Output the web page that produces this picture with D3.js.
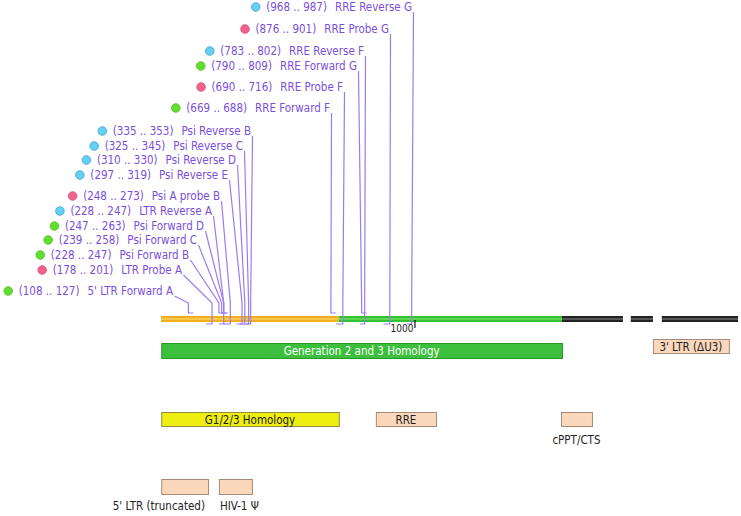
<!DOCTYPE html>
<html><head><meta charset="utf-8">
<script src="https://cdn.jsdelivr.net/npm/d3@7"></script>
<style>body{margin:0;background:#fff}svg{display:block}</style>
</head><body>
<svg id="c" width="741" height="516"></svg>
<script>
// ---------- DATA ----------
const primerNames = ["5' LTR Forward A","LTR Probe A","Psi Forward B","Psi Forward C","Psi Forward D","LTR Reverse A","Psi A probe B","Psi Reverse E","Psi Reverse D","Psi Reverse C","Psi Reverse B","RRE Forward F","RRE Probe F","RRE Forward G","RRE Reverse F","RRE Probe G","RRE Reverse G"];
const primerStart = [108,178,228,239,247,228,248,297,310,325,335,669,690,790,783,876,968];
const primerEnd   = [127,201,247,258,263,247,273,319,330,345,353,688,716,809,802,901,987];
const primerType  = ["forward","probe","forward","forward","forward","reverse","probe","reverse","reverse","reverse","reverse","forward","probe","forward","reverse","probe","reverse"];

const featureNames = ["Generation 2 and 3 Homology","3' LTR (ΔU3)","G1/2/3 Homology","RRE","cPPT/CTS","5' LTR (truncated)","HIV-1 Ψ"];
const featureStart = [1,1937,1,846,1575,1,228];
const featureEnd   = [1579,2236,700,1083,1697,185,358];
const featureKind  = ["homology23","misc","homology123","misc","misc","misc","misc"];

const backboneStart = [0,1850,1972];
const backboneEnd   = [1819,1937,2272];
const tickValues = [1000];

// ---------- LAYOUT / STYLE ----------
const W = 741, H = 516;
const FONT = "'DejaVu Sans Condensed','DejaVu Sans',sans-serif";
const svg = d3.select("#c").style("font-family", FONT).style("font-stretch","condensed");
const x = d3.scaleLinear().domain([0, 2272]).range([161, 738]);

const strandTop = 316, strandH = 6;
const fwdY = 313, revY = 324, elbowY = 303;
const purpleText = "#7a4fdc", purpleLine = "#9a7cf0";
const typeFill = {forward:"#62dd2e", probe:"#f0628c", reverse:"#66d0f4"};
const typeStroke = {forward:"#4cc020", probe:"#d84a74", reverse:"#3aa2d6"};

// label anchor (text end x, row center y)
const labelLayout = {
  "RRE Reverse G":[412,7], "RRE Probe G":[389,29], "RRE Reverse F":[364,51],
  "RRE Forward G":[357,66], "RRE Probe F":[343,87], "RRE Forward F":[330,108],
  "Psi Reverse B":[251,131], "Psi Reverse C":[243,146], "Psi Reverse D":[236,160],
  "Psi Reverse E":[228,175], "Psi A probe B":[220,196], "LTR Reverse A":[212,211],
  "Psi Forward D":[204,226], "Psi Forward C":[197,240], "Psi Forward B":[189,255],
  "LTR Probe A":[182,270], "5' LTR Forward A":[173,291]
};

// ---------- BACKBONE ----------
function regionColor(bp){
  if (bp < featureEnd[2]) return ["#f2b020","#ffe070"];
  if (bp < featureEnd[0]) return ["#33c233","#86ee6a"];
  return ["#232323","#8a8a8a"];
}
const cuts = [featureEnd[2], featureEnd[0]];
const pieces = [];
backboneStart.forEach((s,i)=>{
  const e = backboneEnd[i];
  const pts = [s, ...cuts.filter(c=>c>s && c<e), e];
  for (let k=0;k<pts.length-1;k++) pieces.push([pts[k], pts[k+1]]);
});
const bb = svg.append("g");
pieces.forEach(([a,b])=>{
  const [c1,c2] = regionColor((a+b)/2);
  bb.append("rect").attr("x", x(a)).attr("y", strandTop).attr("width", x(b)-x(a)).attr("height", strandH).attr("fill", c1);
  bb.append("rect").attr("x", x(a)).attr("y", strandTop+2.5).attr("width", x(b)-x(a)).attr("height", 1).attr("fill", c2);
});

// ---------- PRIMER LEADERS + LABELS ----------
const lg = svg.append("g");
primerNames.forEach((name,i)=>{
  const [ex, cy] = labelLayout[name];
  const fwd = primerType[i] === "forward";
  const anchorX = fwd ? x(primerStart[i]) : x(primerEnd[i]);
  const otherX = fwd ? x(primerEnd[i]) : x(primerStart[i]);
  const by = fwd ? fwdY : revY;
  const p = d3.path();
  p.moveTo(ex+1.5, cy+5);
  p.lineTo(anchorX, elbowY);
  p.lineTo(anchorX, by);
  p.lineTo(otherX, by);
  lg.append("path").attr("d", p.toString()).attr("fill","none").attr("stroke", purpleLine).attr("stroke-width",1.2);
});
primerNames.forEach((name,i)=>{
  const [ex, cy] = labelLayout[name];
  const t = lg.append("text").attr("x", ex).attr("y", cy+4).attr("text-anchor","end")
    .attr("font-size", 11.5).attr("fill", purpleText);
  t.append("tspan").text(`(${primerStart[i]} .. ${primerEnd[i]})`);
  t.append("tspan").attr("dx", 8).text(name);
  const bx = t.node().getBBox().x;
  lg.append("circle").attr("cx", bx - 10.5).attr("cy", cy).attr("r", 4.3)
    .attr("fill", typeFill[primerType[i]]).attr("stroke", typeStroke[primerType[i]]).attr("stroke-width", 0.8);
});

// ---------- TICK ----------
tickValues.forEach(v=>{
  svg.append("line").attr("x1", x(v)).attr("x2", x(v)).attr("y1", 320).attr("y2", 328).attr("stroke","#111").attr("stroke-width",1.2);
  svg.append("text").attr("x", x(v)-1.5).attr("y", 331.5).attr("text-anchor","end").attr("font-size",10).attr("fill","#222").text(v);
});

// ---------- FEATURES ----------
const featStyle = {
  "Generation 2 and 3 Homology": {y:343, h:15, inside:true, fill:"#3cbf3c", stroke:"#279a27", color:"#ffffff"},
  "3' LTR (ΔU3)": {y:339, h:14, inside:true, fill:"#fbd8bc", stroke:"#a58a78", color:"#222"},
  "G1/2/3 Homology": {y:412, h:14, inside:true, fill:"#eeee10", stroke:"#8f8f40", color:"#222"},
  "RRE": {y:412, h:14, inside:true, fill:"#fbd8bc", stroke:"#a58a78", color:"#222"},
  "cPPT/CTS": {y:412, h:14, inside:false, fill:"#fbd8bc", stroke:"#a58a78", color:"#222", anchor:"middle", ly:444},
  "5' LTR (truncated)": {y:479, h:15, inside:false, fill:"#fbd8bc", stroke:"#a58a78", color:"#222", anchor:"end", ly:510},
  "HIV-1 Ψ": {y:479, h:15, inside:false, fill:"#fbd8bc", stroke:"#a58a78", color:"#222", anchor:"start", ly:510}
};
const fg = svg.append("g");
featureNames.forEach((name,i)=>{
  const s = featStyle[name];
  const x0 = x(featureStart[i]), x1 = x(featureEnd[i]);
  fg.append("rect").attr("x", x0+0.5).attr("y", s.y+0.5).attr("width", x1-x0).attr("height", s.h)
    .attr("fill", s.fill).attr("stroke", s.stroke).attr("stroke-width",1);
  if (s.inside){
    fg.append("text").attr("x", (x0+x1)/2).attr("y", s.y + s.h/2 + 4.5).attr("text-anchor","middle")
      .attr("font-size", 11.5).attr("fill", s.color).text(name);
  } else {
    const lx = s.anchor === "middle" ? (x0+x1)/2 : s.anchor === "end" ? x1-3 : x0+1;
    fg.append("text").attr("x", lx).attr("y", s.ly).attr("text-anchor", s.anchor)
      .attr("font-size", 11.5).attr("fill", s.color).text(name);
  }
});
</script>
</body></html>
